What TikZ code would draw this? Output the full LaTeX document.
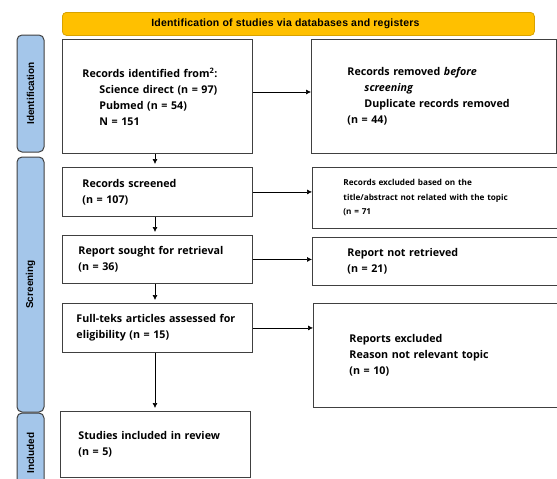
\documentclass[tikz,border=0pt]{standalone}
\usepackage{fontspec}
\setmainfont{Open Sans}
\newfontfamily\labelfont{Liberation Sans}
\usetikzlibrary{positioning,arrows.meta}

\definecolor{bannerfill}{HTML}{FFC000}
\definecolor{bannerline}{HTML}{D8A200}
\definecolor{phasefill}{HTML}{A4C6EA}
\definecolor{boxline}{HTML}{404040}

\tikzset{
  prismabox/.style={draw=boxline, line width=0.9pt, anchor=north west, align=left,
    font=\bfseries\fontsize{10.7}{16}\selectfont},
  smallbox/.style={prismabox, font=\bfseries\fontsize{8.2}{14.5}\selectfont},
  phase/.style={draw=boxline, fill=phasefill, rounded corners=5pt, line width=1pt,
    rotate=90, minimum height=27, font=\labelfont\bfseries\fontsize{10}{11}\selectfont},
  flow/.style={-{Latex[length=5pt,width=5pt]}, line width=0.6pt, draw=black}
}
\newcommand{\ind}{\hspace*{17pt}}

\begin{document}
\begin{tikzpicture}[x=1pt,y=-1pt]
    \clip (0,0) rectangle (557,479);

    % header
    \node[draw=bannerline, fill=bannerfill, rounded corners=4pt, line width=0.8pt,
      anchor=north west, minimum width=472, minimum height=23,
      font=\labelfont\bfseries\fontsize{10.5}{12}\selectfont] (banner) at (62,12)
      {\addfontfeature{LetterSpace=2}Identification of studies via databases and registers\hspace*{26pt}};

    % phases on the left
    \node[phase, minimum width=117] (idphase) at (30.5,93.5) {Identification};
    \node[phase, minimum width=255] (scrphase) at (30.5,284.5) {Screening};
    \node[phase, minimum width=80] (incphase) at (30.5,453) {Included};

    % left column
    \node[prismabox, minimum width=190, minimum height=114, inner xsep=20, text width=150] (ident) at (62,39)
      {Records identified from\textsuperscript{2}:\\ \ind Science direct (n = 97)\\ \ind Pubmed (n = 54)\\ \ind N = 151};
    \node[prismabox, minimum width=190, minimum height=49, inner xsep=20, text width=150] (screened) at (62,167)
      {Records screened\\(n = 107)};
    \node[prismabox, minimum width=190, minimum height=48, inner xsep=16, text width=158] (sought) at (62,235)
      {Report sought for retrieval\\(n = 36)};
    \node[prismabox, minimum width=190, minimum height=49, inner xsep=14, text width=162] (assessed) at (62,303)
      {\mbox{Full-teks articles assessed for}\\eligibility (n = 15)};
    \node[prismabox, minimum width=190, minimum height=66, inner xsep=18, text width=154] (included) at (60,411)
      {Studies included in review\\(n = 5)};

    % right column
    \node[prismabox, minimum width=245, minimum height=114, inner xsep=36, text width=173] (removed) at (311,39)
      {Records removed \textit{before}\\ \ind\textit{screening}\\ \ind Duplicate records removed\\(n = 44)};
    \node[smallbox, minimum width=250, minimum height=61, inner xsep=31, text width=188] (excluded) at (312,167)
      {Records excluded based on the\\title/abstract not related with the topic\\(n = 71};
    \node[prismabox, minimum width=250, minimum height=48, inner xsep=35, text width=180] (notretr) at (312,237)
      {Report not retrieved\\(n = 21)};
    \node[prismabox, minimum width=250, minimum height=104, inner xsep=36, text width=178] (repexcl) at (313,303)
      {Reports excluded\\Reason not relevant topic\\(n = 10)};

    % arrows
    \draw[flow] (ident.east |- 0,92) -- (removed.west |- 0,92);
    \draw[flow] (screened.east) -- (screened.east -| excluded.west);
    \draw[flow] (sought.east) -- (sought.east -| notretr.west);
    \draw[flow] (assessed.east) -- (assessed.east -| repexcl.west);
    \draw[flow, shorten >=3pt] (ident.south -| 155,0) -- (screened.north -| 155,0);
    \draw[flow, shorten >=3pt] (screened.south -| 155,0) -- (sought.north -| 155,0);
    \draw[flow, shorten >=3pt] (sought.south -| 155,0) -- (assessed.north -| 155,0);
    \draw[flow, shorten >=3pt] (assessed.south -| 155,0) -- (included.north -| 155,0);
\end{tikzpicture}
\end{document}
